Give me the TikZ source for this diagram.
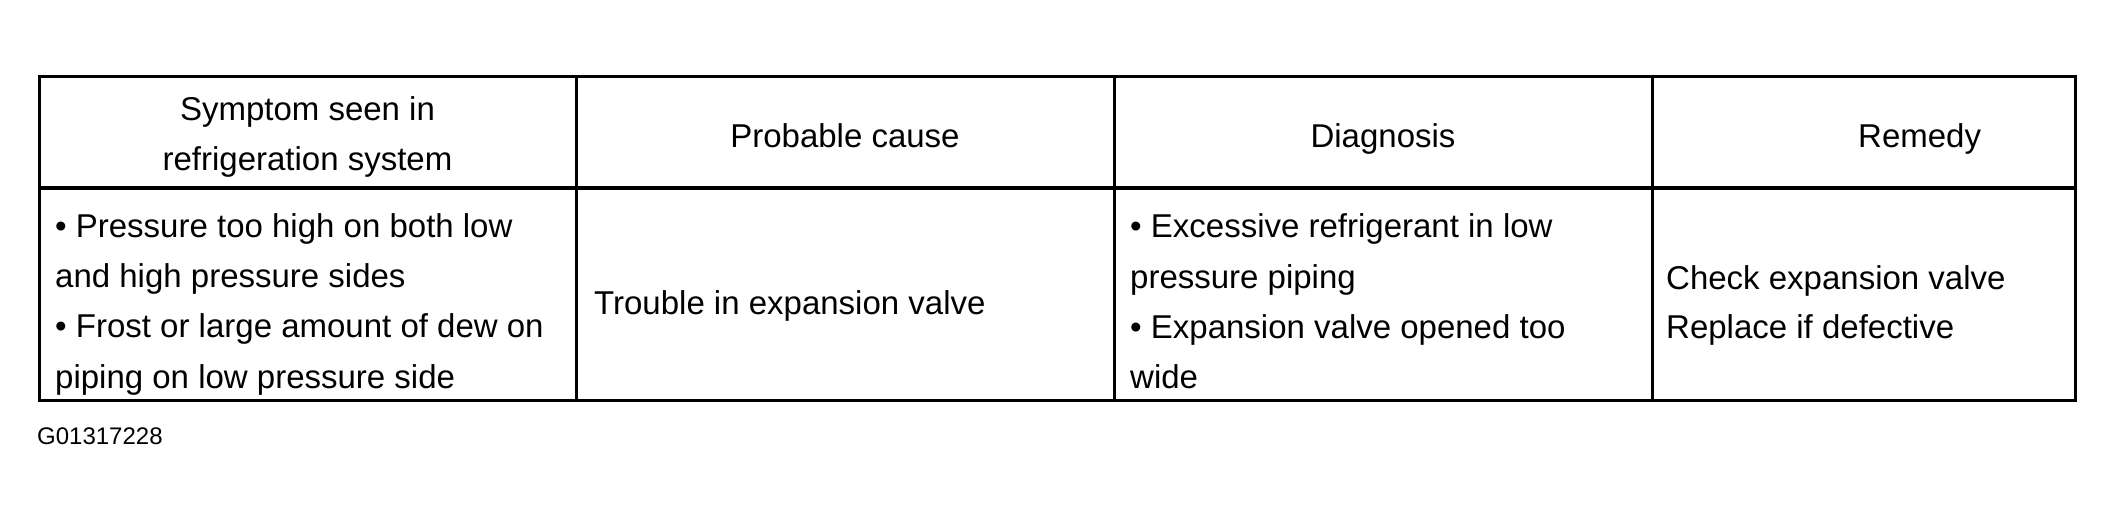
\documentclass[tikz,border=0pt]{standalone}
\usepackage{fontspec}
\setmainfont{Liberation Sans}
\begin{document}
\begin{tikzpicture}[x=1pt,y=-1pt,
  txt/.style={anchor=base west, inner sep=0pt, font=\fontsize{33}{40}\selectfont},
  hdr/.style={anchor=base, inner sep=0pt, font=\fontsize{33}{40}\selectfont},
  frame/.style={line width=3pt},
  seprule/.style={line width=4.5pt},
  tag/.style={anchor=base west, inner sep=0pt, font=\fontsize{24}{28}\selectfont}]
\useasboundingbox (0,0) rectangle (2113,520);
% table
\draw[frame] (39,76) rectangle (2075,400);
\draw[seprule] (39,188) -- (2075,188);
\draw[frame] (576,76) -- (576,400);
\draw[frame] (1114,76) -- (1114,400);
\draw[frame] (1652,76) -- (1652,400);
% header
\node[hdr] (h1a) at (307.5,120) {Symptom seen in};
\node[hdr] (h1b) at (307.5,170) {refrigeration system};
\node[hdr] (h2) at (845,147) {Probable cause};
\node[hdr] (h3) at (1383,147) {Diagnosis};
\node[txt] (h4) at (1858,147) {Remedy};
% column 1
\node[txt] (a1) at (55,237) {• Pressure too high on both low};
\node[txt] (a2) at (55,287) {and high pressure sides};
\node[txt] (a3) at (55,337) {• Frost or large amount of dew on};
\node[txt] (a4) at (55,388) {piping on low pressure side};
% column 2
\node[txt] (b1) at (594,314) {Trouble in expansion valve};
% column 3
\node[txt] (c1) at (1130,237) {• Excessive refrigerant in low};
\node[txt] (c2) at (1130,288) {pressure piping};
\node[txt] (c3) at (1130,338) {• Expansion valve opened too};
\node[txt] (c4) at (1130,388) {wide};
% column 4
\node[txt] (d1) at (1666,289) {Check expansion valve};
\node[txt] (d2) at (1666,338) {Replace if defective};
% figure code
\node[tag] (g) at (37,444) {G01317228};
\end{tikzpicture}
\end{document}
